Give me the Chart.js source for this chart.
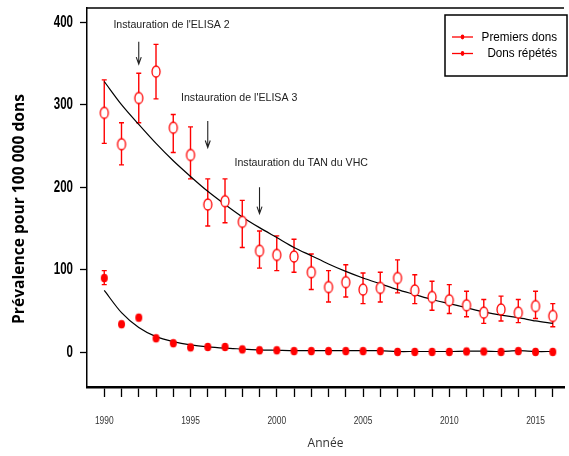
<!DOCTYPE html>
<html>
<head>
<meta charset="utf-8">
<script src="https://cdn.jsdelivr.net/npm/chart.js@4.4.1/dist/chart.umd.min.js"></script>
<style>
  html, body { margin: 0; padding: 0; background: #fff; }
  #wrap { width: 569px; height: 456px; }
</style>
</head>
<body>
<div id="wrap"><canvas id="chart" width="569" height="456"></canvas></div>
<script>
// values
const years = [1990, 1991, 1992, 1993, 1994, 1995, 1996, 1997, 1998, 1999, 2000, 2001, 2002,
  2003, 2004, 2005, 2006, 2007, 2008, 2009, 2010, 2011, 2012, 2013, 2014, 2015, 2016];
const premiers = [290, 252, 308, 340, 272, 239, 179, 183, 158, 123, 118, 116, 97,
  79, 85, 76, 78, 90, 75, 67, 63, 57, 48, 52, 48, 56, 44];
const premiersLow = [253, 227, 278, 307, 242, 210, 153, 157, 127, 102, 99, 97, 76,
  61, 67, 59, 61, 72, 59, 51, 47, 43, 35, 38, 36, 41, 31];
const premiersHigh = [330, 278, 338, 373, 288, 273, 210, 210, 184, 147, 141, 137, 119,
  99, 106, 96, 97, 112, 94, 86, 82, 74, 64, 68, 64, 74, 59];
const premiersFit = [328, 300, 276, 253, 232, 213, 195, 179, 164, 151, 139, 127, 117,
  107, 98, 90, 83, 76, 70, 64, 59, 54, 49, 45, 42, 38, 35];
const repetes = [90, 34, 42, 17, 11, 6, 6.5, 6.5, 3.5, 2.5, 2.5, 1.5, 1.5,
  1.5, 1.5, 1.5, 1.5, 0.5, 0.5, 0.5, 0.5, 1, 1, 0.5, 1.5, 0.5, 0.5];
const repetesLow = [82, null, null, null, null, null, null, null, null, null, null, null, null,
  null, null, null, null, null, null, null, null, null, null, null, null, null, null];
const repetesHigh = [99, null, null, null, null, null, null, null, null, null, null, null, null,
  null, null, null, null, null, null, null, null, null, null, null, null, null, null];
const repetesFit = [75, 48, 30, 19, 13, 9, 6.5, 5, 4, 3, 2.5, 2, 2,
  2, 2, 2, 2, 1, 1, 1, 1, 1.5, 1.5, 1, 2, 1, 1];
const yTicks = [0, 100, 200, 300, 400];
const xLabelYears = [1990, 1995, 2000, 2005, 2010, 2015];

const events = [
  { text: "Instauration de l'ELISA 2", year: 1992, textYear: 1990.53, textValue: 396, arrowFrom: 376, arrowTo: 349 },
  { text: "Instauration de l'ELISA 3", year: 1996, textYear: 1994.45, textValue: 308, arrowFrom: 280, arrowTo: 248 },
  { text: "Instauration du TAN du VHC", year: 1999, textYear: 1997.55, textValue: 229, arrowFrom: 200, arrowTo: 168 }
];

const SANS = '"Liberation Sans", Arial, sans-serif';
const RED = "#ff0000";

function ellipseMarker(w, h, filled) {
  const c = document.createElement("canvas");
  c.width = w + 4;
  c.height = h + 4;
  const g = c.getContext("2d");
  g.beginPath();
  g.ellipse(c.width / 2, c.height / 2, w / 2, h / 2, 0, 0, Math.PI * 2);
  if (filled) {
    g.fillStyle = RED;
    g.fill();
  } else {
    g.fillStyle = "#fff";
    g.fill();
    g.strokeStyle = RED;
    g.lineWidth = 1.3;
    g.stroke();
  }
  return c;
}

const toXY = (arr) => years.map((yr, i) => ({ x: yr, y: arr[i] }));

// condensed text: no narrow font installed, so squeeze horizontally
function narrowText(ctx, text, x, y, sx, align) {
  ctx.save();
  ctx.translate(x, y);
  ctx.scale(sx, 1);
  ctx.textAlign = align;
  ctx.fillText(text, 0, 0);
  ctx.restore();
}

const decor = {
  id: "decor",
  beforeDatasetsDraw(chart) {
    const { ctx, scales: { x, y } } = chart;
    ctx.save();
    ctx.strokeStyle = RED;
    ctx.lineWidth = 1.4;
    const bars = (low, high) => {
      years.forEach((yr, i) => {
        if (low[i] == null) return;
        const px = x.getPixelForValue(yr);
        const p1 = y.getPixelForValue(low[i]);
        const p2 = y.getPixelForValue(high[i]);
        ctx.beginPath();
        ctx.moveTo(px, p1); ctx.lineTo(px, p2);
        ctx.moveTo(px - 2.5, p1); ctx.lineTo(px + 2.5, p1);
        ctx.moveTo(px - 2.5, p2); ctx.lineTo(px + 2.5, p2);
        ctx.stroke();
      });
    };
    bars(premiersLow, premiersHigh);
    bars(repetesLow, repetesHigh);
    ctx.restore();
  },
  afterDraw(chart) {
    const { ctx, chartArea: a, scales: { x, y } } = chart;
    ctx.save();

    // top frame line
    ctx.strokeStyle = "#000";
    ctx.lineWidth = 1.5;
    ctx.beginPath();
    ctx.moveTo(a.left, a.top);
    ctx.lineTo(a.right, a.top);
    ctx.stroke();

    // tick labels
    ctx.textBaseline = "middle";
    ctx.fillStyle = "#000";
    ctx.font = "bold 17px " + SANS;
    yTicks.forEach(v => narrowText(ctx, String(v), a.left - 14, y.getPixelForValue(v), 0.68, "right"));
    ctx.fillStyle = "#333";
    ctx.font = "10px " + SANS;
    xLabelYears.forEach(v => narrowText(ctx, String(v), x.getPixelForValue(v), 421, 0.84, "center"));

    // event annotations
    ctx.font = "10.6px " + SANS;
    ctx.fillStyle = "#222";
    ctx.textAlign = "left";
    events.forEach(ev => {
      ctx.fillText(ev.text, x.getPixelForValue(ev.textYear), y.getPixelForValue(ev.textValue));
      const px = x.getPixelForValue(ev.year);
      const top = y.getPixelForValue(ev.arrowFrom);
      const bot = y.getPixelForValue(ev.arrowTo);
      ctx.strokeStyle = "#222";
      ctx.lineWidth = 1.1;
      ctx.beginPath();
      ctx.moveTo(px, top); ctx.lineTo(px, bot);
      ctx.moveTo(px - 2.5, bot - 7); ctx.lineTo(px, bot); ctx.lineTo(px + 2.5, bot - 7);
      ctx.stroke();
    });

    // legend
    const lx = 445, ly = 15, lw = 122, lh = 61;
    ctx.fillStyle = "#fff";
    ctx.fillRect(lx, ly, lw, lh);
    ctx.strokeStyle = "#000";
    ctx.lineWidth = 1.5;
    ctx.strokeRect(lx, ly, lw, lh);
    ["Premiers dons", "Dons répétés"].forEach((label, i) => {
      const yy = ly + 22 + i * 16.5;
      ctx.strokeStyle = RED;
      ctx.lineWidth = 1.3;
      ctx.beginPath();
      ctx.moveTo(lx + 7, yy); ctx.lineTo(lx + 28, yy);
      ctx.stroke();
      ctx.fillStyle = RED;
      ctx.beginPath();
      ctx.ellipse(lx + 17.5, yy, 1.8, 2.4, 0, 0, Math.PI * 2);
      ctx.fill();
      ctx.fillStyle = "#000";
      ctx.font = "13px " + SANS;
      narrowText(ctx, label, lx + 112, yy, 0.9, "right");
    });

    // y axis title
    ctx.translate(20, 209);
    ctx.rotate(-Math.PI / 2);
    ctx.font = 'bold 15.6px "Open Sans", "Noto Sans", sans-serif';
    ctx.fillStyle = "#000";
    ctx.textAlign = "center";
    ctx.fillText("Prévalence pour 100 000 dons", 0, 0);
    ctx.restore();
  }
};

new Chart(document.getElementById("chart"), {
  type: "line",
  data: {
    datasets: [
      {
        label: "Premiers dons",
        data: toXY(premiers),
        showLine: false,
        pointStyle: ellipseMarker(8, 11, false),
        order: 1
      },
      {
        label: "Dons répétés",
        data: toXY(repetes),
        showLine: false,
        pointStyle: ellipseMarker(7, 8.5, true),
        order: 1
      },
      {
        label: "fit premiers",
        data: toXY(premiersFit),
        borderColor: "#000",
        borderWidth: 1.2,
        pointRadius: 0,
        tension: 0.3,
        order: 2
      },
      {
        label: "fit repetes",
        data: toXY(repetesFit),
        borderColor: "#000",
        borderWidth: 1.2,
        pointRadius: 0,
        tension: 0.3,
        order: 2
      }
    ]
  },
  options: {
    responsive: false,
    devicePixelRatio: 1,
    animation: false,
    layout: { padding: { top: 8, left: 0, right: 0, bottom: 0 } },
    plugins: { legend: { display: false }, tooltip: { enabled: false } },
    scales: {
      x: {
        type: "linear",
        min: 1989,
        max: 2016.65,
        afterBuildTicks: (axis) => { axis.ticks = years.map(v => ({ value: v })); },
        afterFit: (axis) => { axis.height = 69; },
        ticks: { display: false },
        grid: { drawOnChartArea: false, tickLength: 10, color: "#000", tickWidth: 1.3 },
        border: { color: "#000", width: 2.5 },
        title: {
          display: true,
          text: "Année",
          color: "#333",
          font: { family: '"Open Sans", "Noto Sans", sans-serif', size: 12 },
          padding: { top: 0, bottom: 5 }
        }
      },
      y: {
        min: -42,
        max: 417,
        afterBuildTicks: (axis) => { axis.ticks = yTicks.map(v => ({ value: v })); },
        afterFit: (axis) => { axis.width = 87; },
        ticks: { display: false },
        grid: { drawOnChartArea: false, tickLength: 7, color: "#000", tickWidth: 1.3 },
        border: { color: "#000", width: 1.5 }
      }
    }
  },
  plugins: [decor]
});
</script>
</body>
</html>
